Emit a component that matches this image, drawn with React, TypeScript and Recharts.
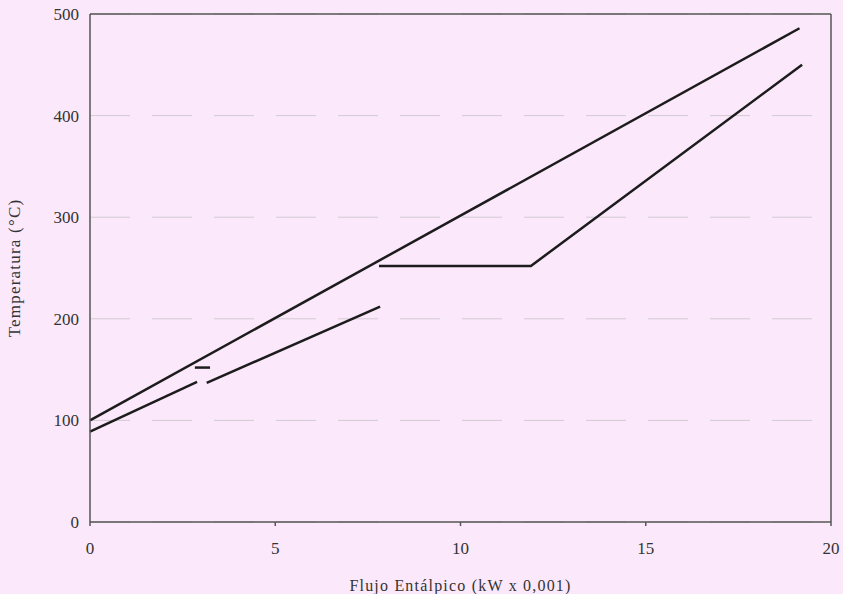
import { ComposedChart, Line, XAxis, YAxis, CartesianGrid, ReferenceLine } from "recharts";

// hot stream (straight line)
const hotFlow = [0, 19.15];
const hotTemp = [100, 486];

// cold stream, first part
const coldAFlow = [0, 2.89];
const coldATemp = [89, 138];

// cold stream, second part
const coldBFlow = [3.15, 7.83];
const coldBTemp = [137, 212];

// short mark between the cold parts
const markFlow = [2.83, 3.24];
const markTemp = [152, 152];

// flat part then rise
const coldCFlow = [7.8, 11.9, 19.22];
const coldCTemp = [252, 252, 450];

const xTicks = [0, 5, 10, 15, 20];
const yTicks = [0, 100, 200, 300, 400, 500];

const toRows = (flow, temp) => flow.map((f, i) => ({ f, t: temp[i] }));

const font = "'Liberation Serif', 'DejaVu Serif', serif";
const ink = "#1c1c1c";

export default function App() {
  return (
    <div style={{ position: "absolute", left: 0, top: 0, width: 843, height: 594, background: "#fbe9fb" }}>
      <ComposedChart width={843} height={594} margin={{ top: 14, right: 12, left: 0, bottom: 0 }}>
        <CartesianGrid vertical={false} horizontal stroke="#d2cad2" strokeDasharray="40 22" />
        <XAxis
          type="number"
          dataKey="f"
          domain={[0, 20]}
          ticks={xTicks}
          height={72}
          stroke="#555"
          strokeWidth={1.5}
          tickSize={4}
          tickMargin={16}
          tick={{ fontFamily: font, fontSize: 17, fill: "#333" }}
          label={{ value: "Flujo Entálpico (kW x 0,001)", position: "insideBottom", offset: 3, style: { fontFamily: font, fontSize: 16, letterSpacing: 1.2, fill: "#333" } }}
        />
        <YAxis
          type="number"
          domain={[0, 500]}
          ticks={yTicks}
          width={90}
          stroke="#555"
          strokeWidth={1.5}
          tickSize={0}
          tickMargin={11}
          tick={{ fontFamily: font, fontSize: 17, fill: "#333" }}
          label={{ value: "Temperatura (°C)", angle: -90, position: "insideLeft", offset: 14, style: { textAnchor: "middle", fontFamily: font, fontSize: 17, letterSpacing: 1.2, fill: "#333" } }}
        />
        <ReferenceLine y={500} stroke="#555" strokeWidth={1.5} />
        <ReferenceLine x={20} stroke="#555" strokeWidth={1.5} />
        <Line data={toRows(hotFlow, hotTemp)} dataKey="t" type="linear" stroke={ink} strokeWidth={2.5} dot={false} isAnimationActive={false} />
        <Line data={toRows(coldAFlow, coldATemp)} dataKey="t" type="linear" stroke={ink} strokeWidth={2.5} dot={false} isAnimationActive={false} />
        <Line data={toRows(coldBFlow, coldBTemp)} dataKey="t" type="linear" stroke={ink} strokeWidth={2.5} dot={false} isAnimationActive={false} />
        <Line data={toRows(markFlow, markTemp)} dataKey="t" type="linear" stroke={ink} strokeWidth={2.5} dot={false} isAnimationActive={false} />
        <Line data={toRows(coldCFlow, coldCTemp)} dataKey="t" type="linear" stroke={ink} strokeWidth={2.5} dot={false} isAnimationActive={false} />
      </ComposedChart>
    </div>
  );
}
